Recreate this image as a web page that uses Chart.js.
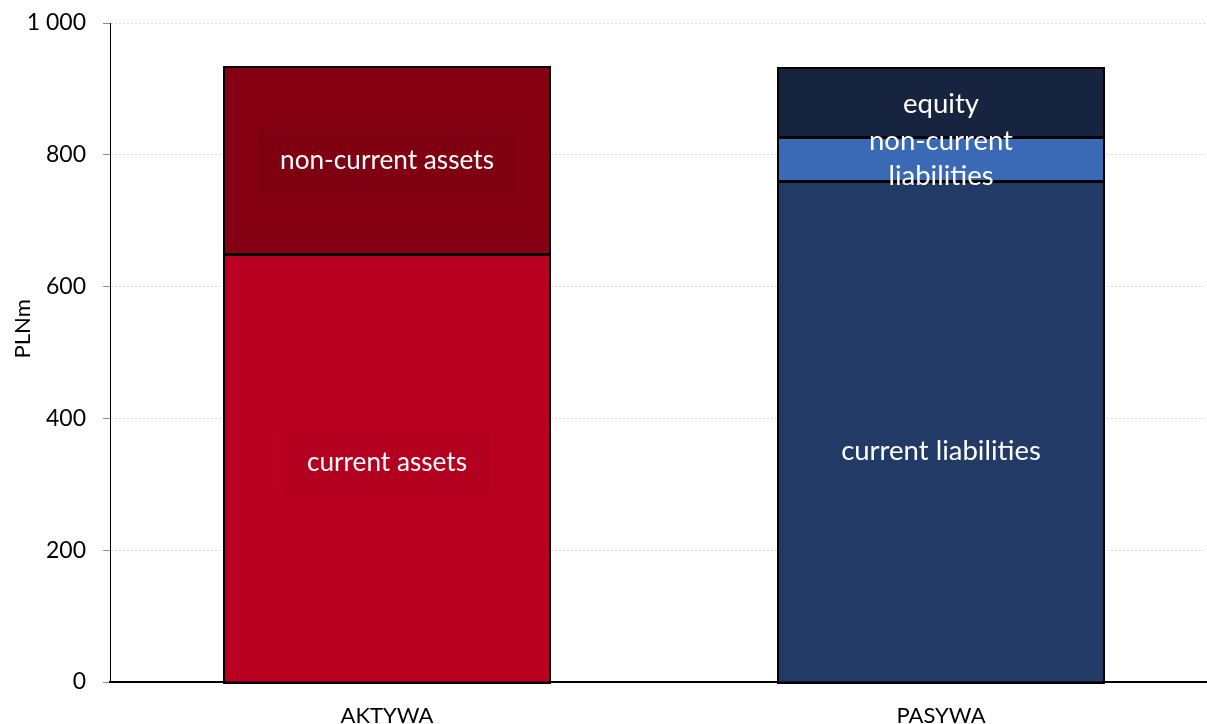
<!DOCTYPE html>
<html>
<head>
<meta charset="utf-8">
<script src="https://cdn.jsdelivr.net/npm/chart.js@4/dist/chart.umd.min.js"></script>
<style>
  html, body { margin: 0; padding: 0; background: #fff; overflow: hidden; }
  canvas { display: block; }
</style>
</head>
<body>
<canvas id="balanceChart" width="1218" height="740" style="width:1218px;height:740px"></canvas>
<script>
// values, PLNm
const categories = ['AKTYWA', 'PASYWA'];
const currentAssets = [649, null];
const nonCurrentAssets = [284, null];
const currentLiabilities = [null, 760];
const nonCurrentLiabilities = [null, 67];
const equity = [null, 105];

const yMin = 0;
const yMax = 1000;
const yStep = 200;
const yTitle = 'PLNm';

const FONT = 'Lato, "Open Sans", sans-serif';

// black outlines + white labels on the bar segments, plus the unit title
const barLabels = {
    id: 'barLabels',
    afterDatasetsDraw(chart) {
        const ctx = chart.ctx;
        const items = [];
        chart.data.datasets.forEach((ds, i) => {
            const meta = chart.getDatasetMeta(i);
            meta.data.forEach((bar, j) => {
                if (ds.data[j] == null) return;
                items.push({ ds, p: bar.getProps(['x', 'y', 'base', 'width'], true) });
            });
        });

        // outlines first so the text sits on top of them
        ctx.save();
        ctx.strokeStyle = '#000';
        ctx.lineWidth = 2;
        items.forEach(({ p }) => {
            const l = Math.round(p.x - p.width / 2);
            const r = Math.round(p.x + p.width / 2);
            const t = Math.round(Math.min(p.y, p.base));
            const b = Math.round(Math.max(p.y, p.base)) + 1;
            ctx.strokeRect(l, t, r - l, b - t);
        });
        ctx.restore();

        items.forEach(({ ds, p }) => {
            const lines = [].concat(ds.label);
            const cy = (p.y + p.base) / 2 + (ds.textShift || 0);
            const lh = 35;
            ctx.save();
            ctx.font = (ds.textSize || 27.5) + 'px ' + FONT;
            if (ds.textBox) {
                const w = Math.max(...lines.map(t => ctx.measureText(t).width));
                ctx.fillStyle = 'rgba(0,0,0,0.045)';
                ctx.fillRect(p.x - w / 2 - 22, cy - 32, w + 44, 64);
            }
            ctx.fillStyle = '#fff';
            ctx.textAlign = 'center';
            ctx.textBaseline = 'middle';
            lines.forEach((t, k) => {
                ctx.fillText(t, p.x, cy + (k - (lines.length - 1) / 2) * lh);
            });
            ctx.restore();
        });
    },
    afterDraw(chart) {
        const ctx = chart.ctx;
        const area = chart.chartArea;
        ctx.save();
        ctx.translate(23, area.top + (area.bottom - area.top) * 0.464);
        ctx.rotate(-Math.PI / 2);
        ctx.font = '22px ' + FONT;
        ctx.fillStyle = '#000';
        ctx.textAlign = 'center';
        ctx.textBaseline = 'middle';
        ctx.fillText(yTitle, 0, 0);
        ctx.restore();
    }
};

const barStyle = {
    borderWidth: 0,
    categoryPercentage: 1,
    barPercentage: 0.59,
    stack: 'one'
};

new Chart(document.getElementById('balanceChart'), {
    type: 'bar',
    data: {
        labels: categories,
        datasets: [
            { ...barStyle, label: 'current assets', data: currentAssets, backgroundColor: '#ba0020', textShift: -5, textBox: true, textSize: 26.2 },
            { ...barStyle, label: 'non-current assets', data: nonCurrentAssets, backgroundColor: '#850012', textBox: true, textSize: 26.2 },
            { ...barStyle, label: 'current liabilities', data: currentLiabilities, backgroundColor: '#223a66', textShift: 20 },
            { ...barStyle, label: ['non-current', 'liabilities'], data: nonCurrentLiabilities, backgroundColor: '#3a69b5' },
            { ...barStyle, label: 'equity', data: equity, backgroundColor: '#16243f', textShift: 2 }
        ]
    },
    options: {
        responsive: false,
        animation: false,
        devicePixelRatio: 1,
        layout: { padding: { top: 23, right: 0, bottom: 0, left: 0 } },
        plugins: {
            legend: { display: false },
            tooltip: { enabled: false }
        },
        scales: {
            x: {
                stacked: true,
                grid: { display: false },
                border: { display: true, color: '#000', width: 2 },
                ticks: {
                    color: '#000',
                    padding: 13,
                    font: { family: FONT, size: 22 }
                },
                afterFit: (scale) => { scale.height = 58; }
            },
            y: {
                stacked: true,
                min: yMin,
                max: yMax,
                grid: {
                    color: '#d9d9d9',
                    tickColor: '#8c8c8c',
                    tickLength: 7,
                    tickBorderDash: []
                },
                border: { display: true, color: '#000', width: 1, dash: [2, 2] },
                ticks: {
                    stepSize: yStep,
                    color: '#000',
                    padding: 17,
                    font: { family: FONT, size: 23 },
                    callback: (v) => String(v).replace(/\B(?=(\d{3})+(?!\d))/g, ' ')
                },
                afterFit: (scale) => {
                    scale.width = 110;
                    scale.paddingTop = 0;
                    scale.paddingBottom = 0;
                }
            }
        }
    },
    plugins: [barLabels]
});
</script>
</body>
</html>
